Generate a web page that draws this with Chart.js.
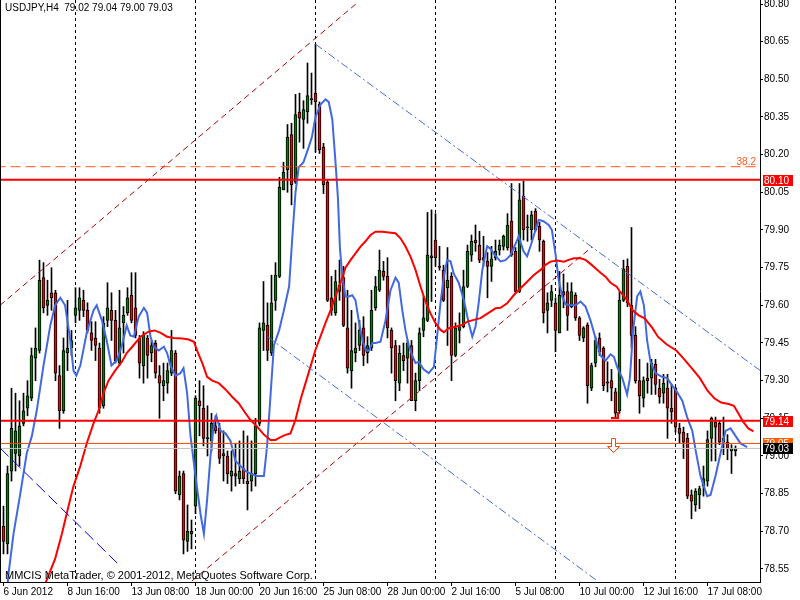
<!DOCTYPE html>
<html>
<head>
<meta charset="utf-8">
<script src="https://cdn.jsdelivr.net/npm/chart.js@4.4.1/dist/chart.umd.min.js"></script>
<style>
html, body { margin: 0; padding: 0; background: #fff; }
#wrap { width: 800px; height: 600px; }
</style>
</head>
<body>
<div id="wrap"><canvas id="chart" width="800" height="600"></canvas></div>
<script>
// USDJPY H4, one candle per 4 hours, bar 0 = 6 Jun 2012 00:00
var dateLabels = ['6 Jun 2012', '8 Jun 16:00', '13 Jun 08:00', '18 Jun 00:00', '20 Jun 16:00', '25 Jun 08:00',
    '28 Jun 00:00', '2 Jul 16:00', '5 Jul 08:00', '10 Jul 00:00', '12 Jul 16:00', '17 Jul 08:00'];
var labelBars = [0, 16, 32, 48, 64, 80, 96, 112, 128, 144, 160, 176];
var gridBars = [18, 48, 78, 108, 138, 168];
var priceTicks = [78.55, 78.70, 78.85, 79.00, 79.15, 79.30, 79.45, 79.60, 79.75, 79.90, 80.05, 80.20, 80.35, 80.50, 80.65, 80.80];

var open = [
    78.72, 78.65, 78.94, 79.01, 79.00, 79.13, 79.19, 79.23, 79.39, 79.42,
    79.71, 79.60, 79.65, 79.65, 79.32, 79.18, 79.41, 79.43, 79.56, 79.58,
    79.62, 79.58, 79.49, 79.47, 79.43, 79.20, 79.54, 79.58, 79.54, 79.37,
    79.53, 79.57, 79.64, 79.59, 79.47, 79.36, 79.47, 79.41, 79.45, 79.32,
    79.28, 79.29, 79.33, 79.41, 78.845, 78.93, 78.66, 78.69, 78.80, 79.22,
    79.19, 79.068, 79.06, 79.12, 79.11, 79.00, 79.00, 78.92, 78.93, 78.91,
    78.95, 78.90, 78.90, 78.93, 79.13, 79.50, 79.52, 79.41, 79.62, 79.715,
    80.06, 80.14, 80.28, 80.09, 80.37, 80.34, 80.37, 80.418, 80.445, 80.40,
    80.23, 80.09, 79.63, 79.57, 79.655, 79.71, 79.51, 79.34, 79.41, 79.44,
    79.51, 79.41, 79.43, 79.59, 79.66, 79.735, 79.715, 79.50, 79.44, 79.29,
    79.40, 79.39, 79.44, 79.22, 79.30, 79.50, 79.54, 79.79, 79.86, 79.755,
    79.74, 79.67, 79.715, 79.40, 79.50, 79.515, 79.675, 79.80, 79.86, 79.84,
    79.79, 79.775, 79.755, 79.79, 79.82, 79.835, 79.83, 79.935, 79.815, 79.655,
    80.035, 79.913, 79.90, 79.975, 79.915, 79.855, 79.58, 79.62, 79.61, 79.49,
    79.655, 79.655, 79.595, 79.64, 79.55, 79.47, 79.52, 79.27, 79.37, 79.47,
    79.43, 79.295, 79.30, 79.255, 79.18, 79.62, 79.755, 79.60, 79.48, 79.30,
    79.23, 79.31, 79.31, 79.365, 79.27, 79.25, 79.27, 79.19, 79.27, 79.11,
    79.095, 79.07, 78.845, 78.805, 78.845, 78.88, 78.90, 79.07, 79.135, 79.13,
    79.055, 79.055, 79.02, 79.02
];
var high = [
    78.80, 78.96, 79.27, 79.25, 79.22, 79.25, 79.30, 79.43, 79.51, 79.78,
    79.77, 79.70, 79.75, 79.66, 79.36, 79.47, 79.62, 79.50, 79.67, 79.67,
    79.66, 79.61, 79.535, 79.535, 79.45, 79.555, 79.69, 79.65, 79.58, 79.66,
    79.595, 79.67, 79.73, 79.73, 79.48, 79.495, 79.48, 79.46, 79.46, 79.36,
    79.37, 79.37, 79.50, 79.42, 78.94, 78.94, 78.805, 78.745, 79.24, 79.30,
    79.28, 79.20, 79.17, 79.16, 79.13, 79.10, 79.02, 79.02, 79.05, 79.06,
    79.10, 79.08, 79.06, 79.15, 79.53, 79.695, 79.61, 79.72, 79.77, 80.11,
    80.17, 80.32, 80.325, 80.44, 80.445, 80.415, 80.565, 80.525, 80.64, 80.41,
    80.245, 80.10, 79.715, 79.74, 79.78, 79.755, 79.66, 79.58, 79.53, 79.54,
    79.555, 79.475, 79.66, 79.715, 79.82, 79.775, 79.79, 79.51, 79.46, 79.44,
    79.45, 79.46, 79.46, 79.33, 79.51, 79.635, 79.97, 79.98, 79.965, 79.835,
    79.76, 79.83, 79.73, 79.53, 79.57, 79.74, 79.84, 79.88, 79.92, 79.895,
    79.875, 79.81, 79.835, 79.86, 79.86, 79.88, 79.965, 80.085, 79.83, 80.085,
    80.095, 79.96, 79.975, 79.985, 79.93, 79.86, 79.65, 79.68, 79.63, 79.735,
    79.725, 79.69, 79.69, 79.65, 79.555, 79.515, 79.53, 79.37, 79.475, 79.49,
    79.435, 79.375, 79.345, 79.27, 79.655, 79.78, 79.785, 79.91, 79.515, 79.385,
    79.315, 79.37, 79.385, 79.385, 79.305, 79.325, 79.325, 79.285, 79.275, 79.13,
    79.115, 79.09, 78.865, 78.87, 78.88, 78.96, 79.10, 79.155, 79.155, 79.14,
    79.155, 79.085, 79.045, 79.04
];
var low = [
    78.61, 78.61, 78.90, 78.94, 78.96, 79.12, 79.16, 79.22, 79.30, 79.41,
    79.57, 79.56, 79.58, 79.30, 79.11, 79.17, 79.34, 79.40, 79.53, 79.54,
    79.555, 79.49, 79.42, 79.38, 79.17, 79.19, 79.515, 79.46, 79.37, 79.36,
    79.41, 79.56, 79.53, 79.47, 79.31, 79.29, 79.31, 79.375, 79.31, 79.15,
    79.22, 79.25, 79.32, 78.85, 78.825, 78.61, 78.62, 78.63, 78.77, 79.08,
    79.04, 79.00, 79.02, 79.09, 78.97, 78.90, 78.89, 78.86, 78.88, 78.89,
    78.89, 78.785, 78.86, 78.88, 79.12, 79.42, 79.38, 79.40, 79.58, 79.71,
    80.06, 80.05, 80.00, 80.085, 80.25, 80.225, 80.325, 80.40, 80.21, 80.205,
    80.045, 79.615, 79.56, 79.56, 79.62, 79.515, 79.33, 79.27, 79.375, 79.42,
    79.36, 79.37, 79.42, 79.58, 79.655, 79.70, 79.47, 79.33, 79.22, 79.26,
    79.34, 79.29, 79.22, 79.18, 79.26, 79.475, 79.535, 79.615, 79.755, 79.74,
    79.615, 79.44, 79.30, 79.395, 79.45, 79.51, 79.67, 79.775, 79.815, 79.77,
    79.755, 79.63, 79.695, 79.78, 79.80, 79.82, 79.82, 79.795, 79.65, 79.65,
    79.86, 79.855, 79.86, 79.895, 79.815, 79.53, 79.49, 79.595, 79.415, 79.49,
    79.59, 79.50, 79.59, 79.54, 79.46, 79.455, 79.21, 79.26, 79.355, 79.40,
    79.26, 79.255, 79.22, 79.15, 79.17, 79.615, 79.595, 79.43, 79.29, 79.17,
    79.195, 79.25, 79.245, 79.245, 79.21, 79.21, 79.07, 79.13, 79.095, 79.05,
    78.99, 78.83, 78.75, 78.78, 78.79, 78.84, 78.88, 78.98, 78.98, 79.045,
    79.005, 78.985, 78.93, 79.00
];
var close = [
    78.66, 78.93, 79.11, 79.10, 79.12, 79.18, 79.24, 79.40, 79.43, 79.70,
    79.59, 79.62, 79.63, 79.33, 79.18, 79.42, 79.43, 79.46, 79.59, 79.63,
    79.58, 79.50, 79.46, 79.44, 79.19, 79.53, 79.59, 79.54, 79.38, 79.51,
    79.56, 79.63, 79.54, 79.48, 79.37, 79.48, 79.40, 79.44, 79.33, 79.29,
    79.30, 79.34, 79.42, 78.86, 78.92, 78.665, 78.70, 78.70, 79.23, 79.20,
    79.07, 79.073, 79.13, 79.10, 78.99, 79.01, 78.93, 78.94, 78.92, 78.94,
    78.91, 78.89, 78.93, 79.12, 79.51, 79.53, 79.42, 79.61, 79.72, 80.07,
    80.13, 80.27, 80.08, 80.36, 80.345, 80.38, 80.435, 80.423, 80.41, 80.22,
    80.08, 79.62, 79.58, 79.695, 79.68, 79.52, 79.35, 79.42, 79.43, 79.50,
    79.40, 79.44, 79.58, 79.675, 79.74, 79.715, 79.51, 79.43, 79.30, 79.41,
    79.38, 79.45, 79.22, 79.30, 79.49, 79.55, 79.80, 79.797, 79.79, 79.751,
    79.62, 79.70, 79.40, 79.51, 79.515, 79.675, 79.815, 79.855, 79.85, 79.78,
    79.78, 79.755, 79.785, 79.815, 79.84, 79.875, 79.92, 79.80, 79.655, 80.02,
    79.90, 79.909, 79.96, 79.90, 79.86, 79.57, 79.61, 79.655, 79.50, 79.64,
    79.64, 79.56, 79.655, 79.55, 79.48, 79.51, 79.28, 79.36, 79.46, 79.415,
    79.28, 79.29, 79.27, 79.17, 79.62, 79.745, 79.61, 79.48, 79.30, 79.24,
    79.30, 79.30, 79.37, 79.285, 79.235, 79.29, 79.19, 79.175, 79.115, 79.09,
    79.055, 78.84, 78.82, 78.86, 78.87, 78.91, 79.065, 79.15, 79.115, 79.055,
    79.07, 79.03, 79.03, 79.03
];

// fast moving average (blue)
var fastX = [0.8, 1.25, 2.5, 4.2, 5.8, 7.1, 8.3, 10, 11.7, 12.9, 14.2, 15.4, 16.7, 17.5, 18.2, 19.2, 20.8, 22.5, 23.3, 24.6,
    25.8, 27, 28.3, 29.6, 30.8, 31.7, 32.6, 33.8, 35.1, 35.9, 36.75, 37.6, 38.8, 40.1, 40.9, 41.75, 43, 44.25, 45, 45.9,
    46.75, 48, 49.25, 50.1, 50.9, 51.75, 52.6, 53.2, 54.25, 55.5, 56.75, 58, 59.25, 60.5, 61.75, 63.4, 65.1, 65.9, 66.75, 67.6,
    68.9, 70.1, 71.4, 72.2, 73, 73.8, 75, 76.3, 77.1, 78, 79.25, 80.5, 81.3, 82.2, 83, 83.6, 84.1, 84.7, 85.5, 86.3,
    87.2, 88, 88.9, 89.75, 90.6, 91.4, 92.2, 93, 94.25, 95.5, 96.75, 98, 98.8, 99.7, 100.5, 101.3, 102.2, 103, 103.8, 105,
    106.3, 107.6, 108.4, 109.25, 110.1, 110.9, 111.75, 112.6, 113.8, 115.1, 116.3, 117.2, 118, 118.8, 119.7, 120.9, 121.75, 122.6, 123.4, 124.25,
    125.5, 126.75, 128, 128.8, 130, 130.9, 131.75, 133, 133.8, 135, 136.3, 137.1, 138, 138.8, 139.7, 140.5, 141.75, 143, 144.25, 145.5,
    146.75, 148, 149.25, 150.5, 151.75, 152.6, 153.4, 154.7, 155.9, 156.6, 157.4, 158.4, 159.2, 160.1, 160.9, 161.75, 163, 164.5, 165.9, 167.2,
    168.4, 169.7, 170.9, 172.2, 173, 174.25, 175.9, 176.75, 178, 179.25, 180.5, 181.75, 183, 184.25, 185.9];
var fastY = [78.45, 78.53, 78.69, 78.85, 79.01, 79.08, 79.18, 79.36, 79.52, 79.60, 79.63, 79.60, 79.46, 79.34, 79.32, 79.36, 79.49, 79.58, 79.60, 79.54,
    79.46, 79.36, 79.38, 79.44, 79.52, 79.48, 79.475, 79.555, 79.59, 79.57, 79.475, 79.435, 79.42, 79.435, 79.41, 79.36, 79.32, 79.33, 79.35, 79.25,
    79.08, 78.92, 78.77, 78.69, 78.825, 79.00, 79.13, 79.16, 79.10, 79.09, 79.06, 78.98, 78.96, 78.94, 78.93, 78.92, 78.92, 79.04, 79.24, 79.44,
    79.50, 79.58, 79.675, 79.87, 80.05, 80.15, 80.17, 80.23, 80.27, 80.35, 80.40, 80.42, 80.41, 80.34, 80.17, 80.03, 79.83, 79.715, 79.635, 79.635,
    79.64, 79.62, 79.53, 79.46, 79.42, 79.42, 79.45, 79.45, 79.455, 79.54, 79.66, 79.71, 79.69, 79.58, 79.50, 79.44, 79.40, 79.37, 79.375, 79.345,
    79.33, 79.355, 79.475, 79.61, 79.715, 79.78, 79.775, 79.725, 79.69, 79.62, 79.53, 79.475, 79.515, 79.61, 79.74, 79.835, 79.825, 79.805, 79.79, 79.775,
    79.78, 79.80, 79.845, 79.875, 79.815, 79.795, 79.835, 79.90, 79.94, 79.935, 79.92, 79.90, 79.805, 79.70, 79.635, 79.605, 79.60, 79.60, 79.615, 79.595,
    79.54, 79.47, 79.40, 79.38, 79.405, 79.395, 79.355, 79.31, 79.245, 79.31, 79.50, 79.635, 79.655, 79.60, 79.46, 79.375, 79.33, 79.316, 79.31, 79.28,
    79.255, 79.22, 79.155, 79.10, 79.025, 78.92, 78.84, 78.845, 78.92, 79.01, 79.10, 79.11, 79.08, 79.05, 79.035];

// slow moving average (red)
var slowX = [9.5, 10.4, 12.9, 14.6, 16.25, 17.5, 19.2, 20.8, 22.5, 23.75, 25, 26.25, 27.9, 29.6, 30.8, 32.2, 34.25, 36.25, 37.75, 39.3,
    40.9, 42.5, 44.7, 46.3, 47.6, 48.4, 49.7, 50.9, 52.2, 53.8, 55.5, 57.2, 58.8, 60.5, 61.75, 63.4, 65.1, 66.75, 68, 69.25,
    70.5, 71.75, 73, 74.25, 75.5, 76.75, 78, 79.25, 80.5, 81.75, 83, 84.25, 85.5, 86.75, 88, 89.25, 90.5, 91.75, 93, 94.7,
    96.3, 98, 99.25, 100.5, 101.75, 103, 104.25, 105.5, 106.75, 108, 109.25, 110.1, 111.3, 113, 114.7, 116, 117.6, 119.25, 120.5, 121.75,
    123, 124.25, 125.9, 127.6, 129.25, 130.9, 132.6, 134.25, 135.5, 136.75, 138.4, 140.1, 141.3, 142.6, 144.25, 145.5, 146.75, 148, 149.25, 150.5,
    151.75, 153.3, 154.1, 155.6, 157.3, 158.8, 160.3, 162.2, 163.6, 165.75, 167, 168.2, 170.2, 172.3, 174.1, 176, 177.7, 179.4, 181.3, 182.6,
    183.7, 184.9, 186.2, 187.5];
var slowY = [78.40, 78.49, 78.59, 78.69, 78.80, 78.88, 78.96, 79.05, 79.13, 79.18, 79.25, 79.30, 79.34, 79.375, 79.41, 79.435, 79.475, 79.495, 79.50, 79.49,
    79.475, 79.47, 79.468, 79.464, 79.455, 79.42, 79.37, 79.315, 79.30, 79.29, 79.265, 79.235, 79.21, 79.17, 79.143, 79.117, 79.085, 79.064, 79.064, 79.075,
    79.084, 79.09, 79.144, 79.224, 79.29, 79.356, 79.423, 79.476, 79.53, 79.58, 79.635, 79.69, 79.75, 79.78, 79.807, 79.834, 79.855, 79.88, 79.893, 79.893,
    79.89, 79.887, 79.867, 79.834, 79.794, 79.741, 79.675, 79.615, 79.568, 79.529, 79.502, 79.493, 79.509, 79.515, 79.522, 79.535, 79.542, 79.549, 79.562, 79.575,
    79.588, 79.59, 79.608, 79.641, 79.668, 79.694, 79.721, 79.741, 79.761, 79.774, 79.778, 79.774, 79.781, 79.787, 79.787, 79.781, 79.765, 79.748, 79.73, 79.714,
    79.69, 79.674, 79.655, 79.628, 79.58, 79.56, 79.548, 79.51, 79.475, 79.445, 79.432, 79.42, 79.385, 79.345, 79.31, 79.26, 79.23, 79.213, 79.207, 79.20,
    79.17, 79.137, 79.11, 79.098];

// drawn objects: horizontal levels and trend lines (bar index, price)
var resistance = 80.10;
var support = 79.14;
var alertLevel = 79.05;
var bidPrice = 79.03;
var fibPrice = 80.152;
var fibLabel = '38.2';
var upperChannelX = [-0.875, 88.4], upperChannelY = [79.60, 80.804];
var lowerChannelX = [47.1, 147.1], lowerChannelY = [78.502, 79.832];
var fallLineX = [78, 189.2], fallLineY = [80.64, 79.34];
var midFallX = [66.1, 148.5], midFallY = [79.474, 78.502];
var leftFallX = [-0.875, 28.4], leftFallY = [79.032, 78.574];
var arrowBar = 152.5, arrowTop = 79.072, arrowTip = 79.016;
var boxPrices = [80.10, 79.14, 79.05, 79.03];

var header = 'USDJPY,H4  79.02 79.04 79.00 79.03';
var copyright = 'MMCIS MetaTrader, \u00a9 2001-2012, MetaQuotes Software Corp.';

var bars = open.map(function (v, i) { return i; });

function pts(xs, ys) {
    return xs.map(function (x, k) { return { x: x, y: ys[k] }; });
}
function level(p) {
    return [{ x: -2, y: p }, { x: 192, y: p }];
}
function line(data, color, width, dash, order) {
    return {
        type: 'line', data: data, borderColor: color, borderWidth: width, borderDash: dash || [],
        pointRadius: 0, tension: 0, fill: false, clip: 0, order: order
    };
}

var overlay = {
    id: 'overlay',
    beforeDatasetsDraw: function (chart) {
        var ctx = chart.ctx, area = chart.chartArea, xs = chart.scales.x;
        ctx.save();
        ctx.strokeStyle = '#000';
        ctx.lineWidth = 1;
        ctx.setLineDash([3, 3]);
        gridBars.forEach(function (b) {
            var px = Math.floor(xs.getPixelForValue(b)) + 0.5;
            ctx.beginPath();
            ctx.moveTo(px, area.top);
            ctx.lineTo(px, area.bottom);
            ctx.stroke();
        });
        ctx.restore();
    },
    afterDatasetsDraw: function (chart) {
        var ctx = chart.ctx, xs = chart.scales.x, ys = chart.scales.y;
        var ax = Math.floor(xs.getPixelForValue(arrowBar)) + 0.5;
        var top = Math.round(ys.getPixelForValue(arrowTop)) + 0.5;
        var tip = Math.round(ys.getPixelForValue(arrowTip)) + 0.5;
        var mid = Math.round((top + tip) / 2) + 0.5;
        ctx.save();
        ctx.strokeStyle = '#ff4500';
        ctx.fillStyle = '#fff';
        ctx.lineWidth = 1;
        ctx.beginPath();
        ctx.moveTo(ax - 2, top);
        ctx.lineTo(ax + 2, top);
        ctx.lineTo(ax + 2, mid);
        ctx.lineTo(ax + 6, mid);
        ctx.lineTo(ax, tip);
        ctx.lineTo(ax - 6, mid);
        ctx.lineTo(ax - 2, mid);
        ctx.closePath();
        ctx.fill();
        ctx.stroke();
        // small red stop mark next to the 10 Jul low
        var hx = Math.floor(xs.getPixelForValue(153)), hy = Math.round(ys.getPixelForValue(79.155));
        ctx.fillStyle = '#ff0000';
        ctx.fillRect(hx - 4, hy, 8, 2);
        ctx.fillRect(hx + 2, hy - 5, 2, 6);
        ctx.restore();
    },
    afterDraw: function (chart) {
        var ctx = chart.ctx, area = chart.chartArea, ys = chart.scales.y;
        ctx.save();
        ctx.fillStyle = '#000';
        ctx.fillRect(area.left, area.top, 1, area.bottom - area.top);
        ctx.font = '10px "Liberation Sans"';
        ctx.textBaseline = 'top';
        ctx.fillText(header, 5, 3);
        ctx.font = '11px "Liberation Sans"';
        ctx.textBaseline = 'alphabetic';
        ctx.fillText(copyright, 5, area.bottom - 3);

        var fy = Math.round(ys.getPixelForValue(fibPrice));
        ctx.font = '10px "Liberation Sans"';
        ctx.fillStyle = '#ff5a1e';
        ctx.textAlign = 'right';
        ctx.fillText(fibLabel, area.right - 4, fy - 2);

        var fills = ['#ff0000', '#ff0000', '#ff6000', '#000000'];
        ctx.textAlign = 'left';
        ctx.textBaseline = 'middle';
        boxPrices.forEach(function (p, k) {
            var y = Math.round(ys.getPixelForValue(p));
            ctx.fillStyle = fills[k];
            ctx.fillRect(area.right + 3, y - 5, 30, 11);
            ctx.fillStyle = '#fff';
            ctx.fillText(p.toFixed(2), area.right + 4, y + 1);
        });
        ctx.restore();
    }
};

var ctx = document.getElementById('chart');
var chart = new Chart(ctx, {
    type: 'bar',
    data: {
        datasets: [
            {
                type: 'bar', label: 'wick', data: bars.map(function (i) { return { x: i, y: [low[i], high[i]] }; }),
                backgroundColor: '#000', borderWidth: 0, barThickness: 1, grouped: false, order: 10
            },
            {
                type: 'bar', label: 'body', data: bars.map(function (i) { return { x: i, y: [open[i], close[i]] }; }),
                backgroundColor: bars.map(function (i) { return close[i] >= open[i] ? '#008000' : '#ff0000'; }),
                borderColor: '#000', borderWidth: 1, borderSkipped: false, barThickness: 3,
                minBarLength: 1, grouped: false, order: 9
            },
            line(pts(fastX, fastY), '#4169e1', 2, null, 6),
            line(pts(slowX, slowY), '#ff0000', 2, null, 5),
            line(level(fibPrice), '#ff5a1e', 1, [10, 5], 4),
            line(level(bidPrice), '#c0c0c0', 1, null, 4),
            line(level(alertLevel), '#ff4500', 1, null, 3),
            line(level(resistance), '#ff0000', 2, null, 2),
            line(level(support), '#ff0000', 2, null, 2),
            line(pts(upperChannelX, upperChannelY), '#b00000', 1, [6, 4], 3),
            line(pts(lowerChannelX, lowerChannelY), '#b00000', 1, [6, 4], 3),
            line(pts(fallLineX, fallLineY), '#4169e1', 1, [8, 3, 2, 3], 3),
            line(pts(midFallX, midFallY), '#4169e1', 1, [8, 3, 2, 3], 3),
            line(pts(leftFallX, leftFallY), '#0000dd', 1, [12, 5], 3)
        ]
    },
    options: {
        responsive: false,
        devicePixelRatio: 1,
        animation: false,
        events: [],
        layout: { padding: 0 },
        plugins: { legend: { display: false }, tooltip: { enabled: false } },
        scales: {
            x: {
                type: 'linear', position: 'bottom', min: -0.875, max: 189.125, offset: false, bounds: 'data',
                grid: { display: true, drawOnChartArea: false, drawTicks: true, tickLength: 4, color: '#000', offset: false },
                border: { display: true, color: '#000', width: 1 },
                ticks: {
                    autoSkip: false, maxRotation: 0, minRotation: 0, align: 'start', padding: 0, labelOffset: 0,
                    color: '#000', font: { family: 'Liberation Sans', size: 10 },
                    callback: function (v) {
                        var k = labelBars.indexOf(v);
                        return k >= 0 ? dateLabels[k] : '';
                    }
                },
                afterBuildTicks: function (s) {
                    s.ticks = labelBars.map(function (b) { return { value: b }; });
                },
                afterFit: function (s) {
                    s.height = 18;
                    s.paddingLeft = 0;
                    s.paddingRight = 0;
                }
            },
            y: {
                type: 'linear', position: 'right', min: 78.49813, max: 80.81593, bounds: 'data',
                grid: { display: true, drawOnChartArea: false, drawTicks: true, tickLength: 3, color: '#000' },
                border: { display: true, color: '#000', width: 1 },
                ticks: {
                    padding: 1, color: '#000', font: { family: 'Liberation Sans', size: 10 },
                    callback: function (v) { return v.toFixed(2); }
                },
                afterBuildTicks: function (s) {
                    s.ticks = priceTicks.map(function (p) { return { value: p }; });
                },
                afterFit: function (s) {
                    s.width = 40;
                    s.paddingTop = 0;
                    s.paddingBottom = 0;
                }
            }
        }
    },
    plugins: [overlay]
});
</script>
</body>
</html>
